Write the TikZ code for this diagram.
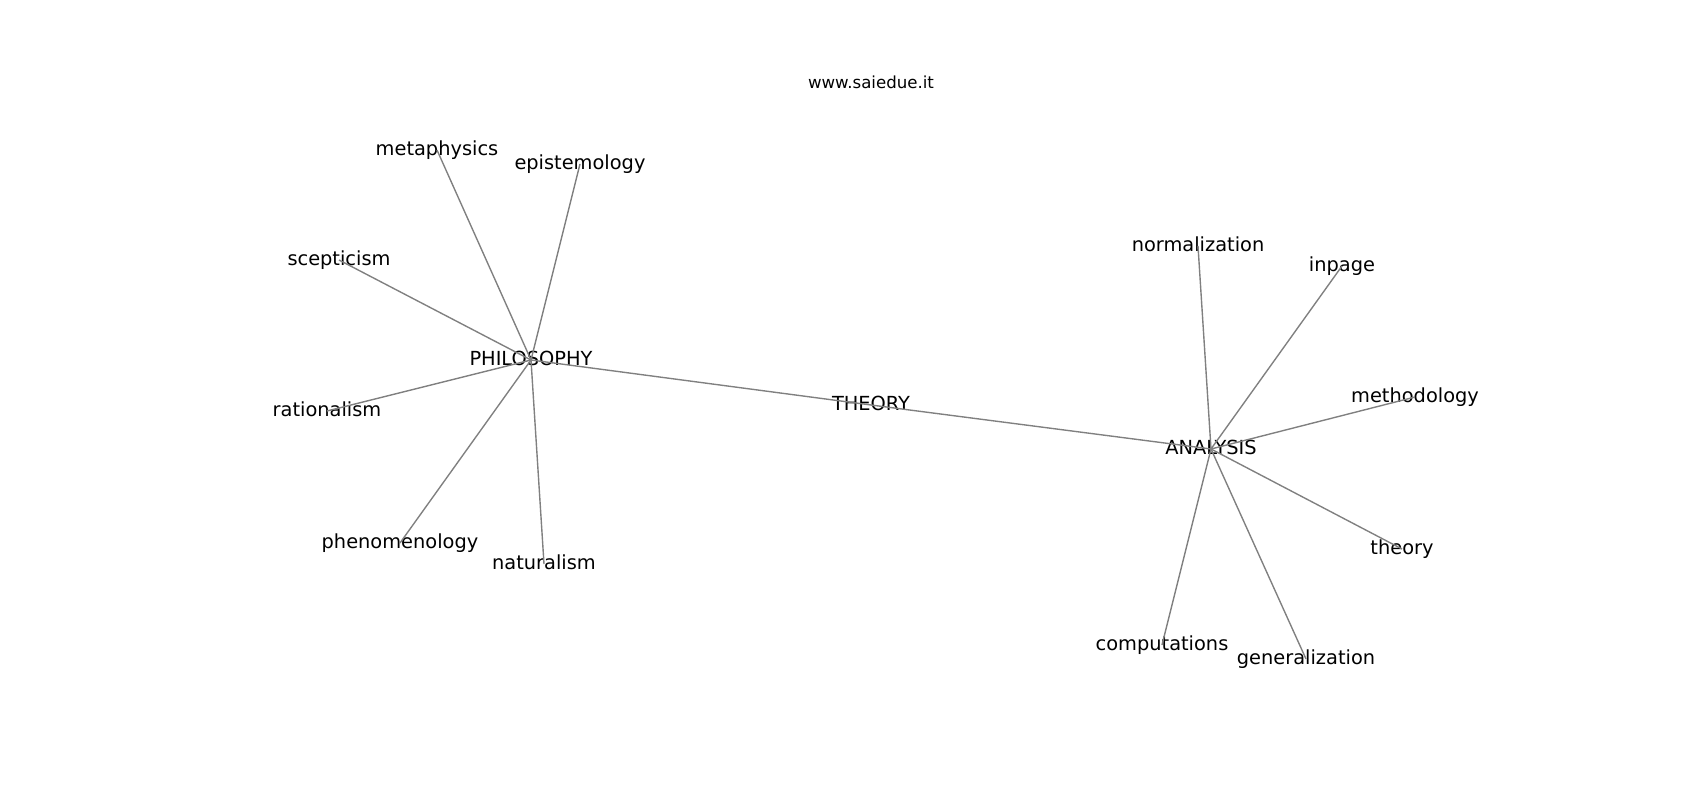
\documentclass[tikz,border=0pt]{standalone}
\usepackage{fontspec}
\setmainfont{DejaVu Sans}
\definecolor{edgegray}{RGB}{128,128,128}
\begin{document}
\begin{tikzpicture}[x=0.01in, y=-0.01in,
  word/.style={inner sep=0pt, text height=10.64pt, text depth=2.91pt, font=\fontsize{14}{17}\selectfont},
  link/.style={draw=edgegray, line width=1pt}]
\useasboundingbox (0,0) rectangle (1700,800);
\node[inner sep=0pt, font=\fontsize{12}{14}\selectfont] (title) at (871,82) {www.saiedue.it};

\node[word] (philo) at (531,360) {PHILOSOPHY};
\node[word] (theory) at (871,405) {THEORY};
\node[word] (analysis) at (1211,449) {ANALYSIS};

\node[word] (meta) at (437,150) {metaphysics};
\node[word] (epist) at (580,164) {epistemology};
\node[word] (scept) at (339,260) {scepticism};
\node[word] (ration) at (327,411) {rationalism};
\node[word] (phenom) at (400,543) {phenomenology};
\node[word] (natur) at (544,564) {naturalism};

\node[word] (normal) at (1198,246) {normalization};
\node[word] (inpage) at (1342,266) {inpage};
\node[word] (method) at (1415,397) {methodology};
\node[word] (theor) at (1402,549) {theory};
\node[word] (comput) at (1162,645) {computations};
\node[word] (general) at (1306,659) {generalization};

\draw[link] (philo.center) -- (theory.center);
\draw[link] (theory.center) -- (analysis.center);

\draw[link] (philo.center) -- (meta.center);
\draw[link] (philo.center) -- (epist.center);
\draw[link] (philo.center) -- (scept.center);
\draw[link] (philo.center) -- (ration.center);
\draw[link] (philo.center) -- (phenom.center);
\draw[link] (philo.center) -- (natur.center);

\draw[link] (analysis.center) -- (normal.center);
\draw[link] (analysis.center) -- (inpage.center);
\draw[link] (analysis.center) -- (method.center);
\draw[link] (analysis.center) -- (theor.center);
\draw[link] (analysis.center) -- (comput.center);
\draw[link] (analysis.center) -- (general.center);
\end{tikzpicture}
\end{document}
